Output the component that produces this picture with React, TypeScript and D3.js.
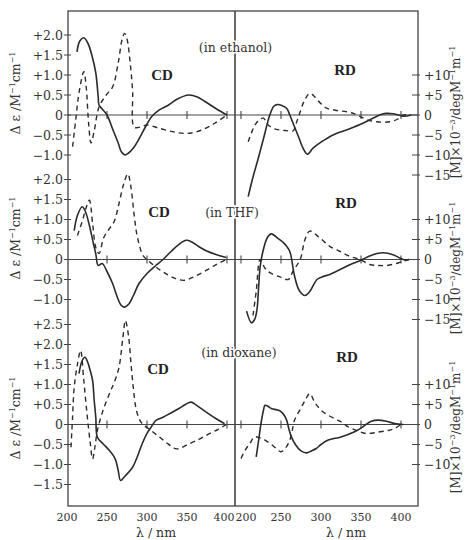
import React from "react";
import * as d3 from "d3";

type P = [number, number];

// ---------- data (wavelength nm, value) ----------
const ethCdSolid: P[] = [[212.5,1.58],[216,1.85],[221,1.93],[226,1.8],[231,1.5],[236,1.05],[239,0.45],[240,0.25],[244,0.15],[250,0],[257,-0.35],[264,-0.7],[268,-0.92],[272.5,-1.0],[277,-0.95],[284,-0.8],[290,-0.6],[298,-0.3],[306,-0.04],[315,0.12],[327,0.25],[338,0.4],[352,0.5],[363,0.45],[373,0.33],[387,0.15],[400,0]];
const ethCdDash: P[] = [[207,-0.79],[211,-0.1],[215,0.55],[221,1.08],[224,0.7],[227,-0.2],[230,-0.7],[234,-0.4],[240,0.2],[249,0.5],[257,0.7],[264,1.3],[269,1.9],[272,2.04],[275,1.9],[279,1.3],[282,0.6],[284,-0.3],[292,-0.3],[300,-0.25],[315,-0.33],[335,-0.43],[351,-0.46],[368,-0.38],[385,-0.2],[400,0]];
const ethRdSolid: P[] = [[209,-20.4],[215,-15.5],[221,-11.25],[228,-6],[236,0],[241,2.2],[245,2.6],[251,2.4],[257,1.7],[261,0],[265,-2],[272,-5.5],[278,-8.5],[283,-9.8],[290,-8.3],[300,-6.8],[315,-5],[335,-3.5],[353,-2],[363,-1],[370,-0.3],[376,0.2],[382,0.4],[390,0.3],[397,0],[403,-0.3],[413,0]];
const ethRdDash: P[] = [[209,-6.7],[213,-4.5],[217.5,-2.5],[223,-1.2],[228,-0.8],[234,-2.5],[241,-3.4],[249,-3.75],[257,-3.9],[265,-4],[270,-1.5],[274,0.8],[279,3.5],[286,5.4],[293,4.4],[300,2.8],[307,1.7],[318,1.2],[332,0.8],[342,0.3],[349,-0.4],[358,-1.2],[370,-1.7],[386,-1.7],[396,-1],[403,0],[413,0]];

const thfCdSolid: P[] = [[209,0.72],[213,1.1],[219,1.32],[223,1.2],[228,0.85],[233,0.4],[236,0.14],[239,-0.15],[244,-0.1],[250,-0.3],[257,-0.6],[263,-0.95],[268,-1.15],[272,-1.19],[277,-1.12],[283,-0.9],[290,-0.6],[300,-0.35],[311,-0.15],[320,0],[330,0.2],[340,0.38],[349,0.48],[356,0.44],[365,0.32],[374,0.22],[387,0.12],[399,0.05]];
const thfCdDash: P[] = [[213,0.6],[219,0.95],[224,1.3],[228,1.48],[232,0.9],[236,0.3],[240,0.15],[246,0.55],[253,0.77],[259,0.95],[265,1.4],[271,1.9],[276,2.14],[280,1.8],[284,1.1],[288,0.56],[295,0.1],[301,-0.02],[312,-0.2],[324,-0.36],[336,-0.48],[347,-0.52],[360,-0.42],[374,-0.27],[387,-0.12],[399,0]];
const thfRdSolid: P[] = [[207,-12.9],[213,-15.8],[217,-15],[220,-12.5],[222,-7],[224,-1.7],[228,2.5],[233,5.5],[238,6.4],[246,5.3],[253,4.2],[257,3.3],[261,2],[263,0.4],[267,-4.2],[273,-7.8],[280,-9],[286,-8],[295,-5],[302,-4.3],[311,-3.75],[322,-2.7],[332,-1.7],[341,-0.9],[349,-0.25],[360,0.8],[370,1.5],[378,1.7],[390,1.2],[403,0],[410,0]];
const thfRdDash: P[] = [[215,-14],[219,-8],[224,0],[230,-2.2],[236,-3.3],[248,-4.3],[259,-5],[265,-2.9],[274,0],[280,5],[286,7.1],[298,5.5],[311,3.3],[324,2],[336,0.8],[349,0],[361,-1.25],[372,-1.5],[382,-1.5],[394,-1],[403,-0.4],[410,0]];

const dioCdSolid: P[] = [[215,1.27],[219,1.6],[222.5,1.68],[226,1.55],[229,1.35],[232,1.1],[234,0.6],[236,0.18],[238,-0.32],[245,-0.48],[253,-0.65],[258,-0.78],[261,-0.9],[264,-1.15],[267,-1.4],[272,-1.3],[282,-1.07],[288,-0.8],[294,-0.48],[300,-0.22],[305,-0.07],[311,0.1],[320,0.18],[328,0.27],[340,0.4],[348,0.5],[355,0.56],[362,0.48],[374,0.31],[386,0.15],[397,0.02]];
const dioCdDash: P[] = [[205,-0.57],[207,0.2],[209,0.93],[213,1.5],[217,1.85],[221,1.1],[225,0.27],[229,-0.45],[232,-0.86],[235,-0.55],[238,-0.15],[245,0.35],[253,0.77],[259,1.05],[265,1.43],[270,2.2],[273,2.6],[277,2.2],[280,1.52],[283,0.9],[286,0.43],[290,0.15],[294,0.02],[305,-0.15],[316,-0.32],[326,-0.48],[337,-0.61],[353,-0.48],[366,-0.36],[378,-0.23],[389,-0.12],[399,0]];
const dioRdSolid: P[] = [[219,-8.1],[222,-4],[225,0.25],[228,3.5],[230,4.8],[234,4.5],[238,4],[246,3.6],[250,3.2],[254,2.3],[257,1.1],[260,-1.2],[263,-3.1],[268,-5],[275,-6.6],[282,-7.1],[288,-6.6],[294,-6],[300,-5],[309,-3.9],[325,-3.1],[342,-1.8],[350,-0.9],[356,0],[363,0.8],[371,1.1],[382,0.8],[392,0.25],[403,0]];
const dioRdDash: P[] = [[200,-8.5],[205,-6.5],[211,-4.75],[217,-3.1],[223,-3.3],[230,-3.9],[240,-5.3],[250,-6.8],[256,-5.8],[261,-3.9],[264,-1.5],[267,1.1],[274,3.8],[280,6],[286,7.75],[292,5.6],[300,3.6],[310,2.2],[321,1.1],[328,0.3],[334,-0.6],[345,-1.5],[356,-2.25],[371,-1.9],[384,-1.5],[392,-1],[400,0]];

const cdTicks1 = ["+2.0","+1.5","+1.0","+0.5","0","\u22120.5","\u22121.0"];
const cdVals1 = [2, 1.5, 1, 0.5, 0, -0.5, -1];
const cdTicks3 = ["+2.5","+2.0","+1.5","+1.0","+0.5","0","\u22120.5","\u22121.0","\u22121.5"];
const cdVals3 = [2.5, 2, 1.5, 1, 0.5, 0, -0.5, -1, -1.5];
const rdTicks1 = ["+10","+5","0","\u22125","\u221210","\u221215"];
const rdVals1 = [10, 5, 0, -5, -10, -15];
const rdTicks3 = ["+10","+5","0","\u22125","\u221210"];
const rdVals3 = [10, 5, 0, -5, -10];
const nmTicks = [200, 250, 300, 350, 400];
const solvents = ["(in ethanol)", "(in THF)", "(in dioxane)"];

// ---------- layout ----------
const FRAME = { left: 68, right: 418, top: 11, bottom: 506, divider: 235 };
const xL = d3.scaleLinear().domain([200, 400]).range([67, 227]);
const xR = d3.scaleLinear().domain([200, 400]).range([241, 401]);
const zeros = [115, 259.5, 424.5];
const solventPos = [[235.5, 52], [232, 217], [239, 357]];
const cdPos = [[162, 80], [159, 217], [158, 374]];
const rdPos = [[345, 75], [346, 208], [347, 362]];
const leftTitleY = [93, 238, 418];
const rightTitleY = [112, 268, 427];

const INK = "#2b2b2b";
const FONT = "'DejaVu Serif', 'Liberation Serif', serif";

const panels = [
  { cdS: ethCdSolid, cdD: ethCdDash, rdS: ethRdSolid, rdD: ethRdDash, cdT: cdTicks1, cdV: cdVals1, rdT: rdTicks1, rdV: rdVals1 },
  { cdS: thfCdSolid, cdD: thfCdDash, rdS: thfRdSolid, rdD: thfRdDash, cdT: cdTicks1, cdV: cdVals1, rdT: rdTicks1, rdV: rdVals1 },
  { cdS: dioCdSolid, cdD: dioCdDash, rdS: dioRdSolid, rdD: dioRdDash, cdT: cdTicks3, cdV: cdVals3, rdT: rdTicks3, rdV: rdVals3 },
];

export default function App() {
  return (
    <svg width={468} height={540} style={{ position: "absolute", left: 0, top: 0, background: "#fff" }} fontFamily={FONT}>
      <rect x={0} y={0} width={468} height={540} fill="#fff" />
      {/* frame */}
      <rect x={FRAME.left} y={FRAME.top} width={FRAME.right - FRAME.left} height={FRAME.bottom - FRAME.top} fill="none" stroke="#444" strokeWidth={1.3} />
      <line x1={FRAME.divider} x2={FRAME.divider} y1={FRAME.top} y2={FRAME.bottom} stroke="#444" strokeWidth={1.6} />
      {panels.map((p, i) => {
        const z = zeros[i];
        const yCd = d3.scaleLinear().domain([0, 1]).range([z, z - 40]);
        const yRd = d3.scaleLinear().domain([0, 10]).range([z, z - 40]);
        const lineCd = d3.line<P>().x((d) => xL(d[0])).y((d) => yCd(d[1])).curve(d3.curveCatmullRom.alpha(0.5));
        const lineRd = d3.line<P>().x((d) => xR(d[0])).y((d) => yRd(d[1])).curve(d3.curveCatmullRom.alpha(0.5));
        return (
          <g key={i}>
            {/* zero line */}
            <line x1={FRAME.left} x2={FRAME.right} y1={z} y2={z} stroke="#444" strokeWidth={1.2} />
            {nmTicks.filter((t) => t > 200).map((t) => (
              <line key={"l" + t} x1={xL(t)} x2={xL(t)} y1={z - 4} y2={z + 4} stroke="#444" strokeWidth={1.1} />
            ))}
            {nmTicks.map((t) => (
              <line key={"r" + t} x1={xR(t)} x2={xR(t)} y1={z - 4} y2={z + 4} stroke="#444" strokeWidth={1.1} />
            ))}
            {/* left axis ticks */}
            {p.cdV.map((v, k) => (
              <g key={"cd" + k}>
                <line x1={FRAME.left - 4} x2={FRAME.left + 3} y1={yCd(v)} y2={yCd(v)} stroke="#444" strokeWidth={1} />
                <text x={FRAME.left - 5} y={yCd(v)} dy="0.36em" textAnchor="end" fontSize={12.5} fill="#333">{p.cdT[k]}</text>
              </g>
            ))}
            {/* right axis ticks */}
            {p.rdV.map((v, k) => (
              <g key={"rd" + k}>
                <line x1={FRAME.right - 6} x2={FRAME.right + 2} y1={yRd(v)} y2={yRd(v)} stroke="#444" strokeWidth={1} />
                <text x={FRAME.right + 6} y={yRd(v)} dy="0.36em" textAnchor="start" fontSize={12.5} fill="#333">{p.rdT[k]}</text>
              </g>
            ))}
            {/* curves */}
            <path d={lineCd(p.cdS) || ""} fill="none" stroke={INK} strokeWidth={1.6} />
            <path d={lineCd(p.cdD) || ""} fill="none" stroke={INK} strokeWidth={1.4} strokeDasharray="5,4" />
            <path d={lineRd(p.rdS) || ""} fill="none" stroke={INK} strokeWidth={1.6} />
            <path d={lineRd(p.rdD) || ""} fill="none" stroke={INK} strokeWidth={1.4} strokeDasharray="5,4" />
            {/* labels */}
            <text x={solventPos[i][0]} y={solventPos[i][1]} textAnchor="middle" fontSize={12.5} fill="#333" style={{ paintOrder: "stroke" }} stroke="#fff" strokeWidth={3}>{solvents[i]}</text>
            <text x={cdPos[i][0]} y={cdPos[i][1]} textAnchor="middle" fontSize={15} fontWeight="bold" fill="#222" fontFamily="'Liberation Serif', serif">CD</text>
            <text x={rdPos[i][0]} y={rdPos[i][1]} textAnchor="middle" fontSize={15} fontWeight="bold" fill="#222" fontFamily="'Liberation Serif', serif">RD</text>
            <text transform={`translate(20,${leftTitleY[i]}) rotate(-90)`} textAnchor="middle" fontSize={12.5} fill="#333">
              {"\u0394 \u03b5 \u2215M"}<tspan dy={-5} fontSize={8}>{"\u22121"}</tspan><tspan dy={5}>cm</tspan><tspan dy={-5} fontSize={8}>{"\u22121"}</tspan>
            </text>
            <text transform={`translate(460,${rightTitleY[i]}) rotate(-90)`} textAnchor="middle" fontSize={12} fill="#333">
              {"[M]\u00d710"}<tspan dy={-5} fontSize={8}>{"\u22123"}</tspan><tspan dy={5}>{"\u2215degM"}</tspan><tspan dy={-5} fontSize={8}>{"\u22121"}</tspan><tspan dy={5}>m</tspan><tspan dy={-5} fontSize={8}>{"\u22121"}</tspan>
            </text>
          </g>
        );
      })}
      {/* bottom axis labels */}
      {nmTicks.map((t) => (
        <text key={"bl" + t} x={xL(t) - (t === 400 ? 3 : 0)} y={521} textAnchor="middle" fontSize={11} fill="#333">{t}</text>
      ))}
      {nmTicks.map((t) => (
        <text key={"br" + t} x={xR(t) + (t === 200 ? 5 : 0)} y={521} textAnchor="middle" fontSize={11} fill="#333">{t}</text>
      ))}
      <text x={156} y={537} textAnchor="middle" fontSize={12.5} fill="#333">{"\u03bb \u2215 nm"}</text>
      <text x={346} y={537} textAnchor="middle" fontSize={12.5} fill="#333">{"\u03bb \u2215 nm"}</text>
    </svg>
  );
}
